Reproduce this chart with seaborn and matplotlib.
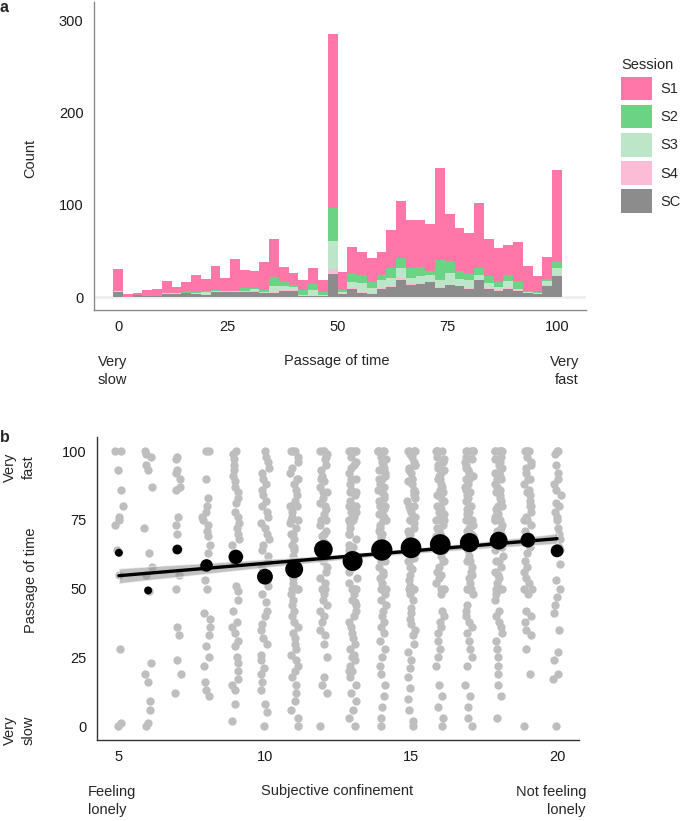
import numpy as np
import pandas as pd
import seaborn as sns
import matplotlib.pyplot as plt
from matplotlib.collections import PolyCollection

# ---- panel a: stacked histogram of "passage of time" by session ----
sessions = ["S1", "S2", "S3", "S4", "SC"]
session_colors = ["#ff76a9", "#6ad384", "#bde5c8", "#fbbdd5", "#8c8c8c"]
n_bins = 46  # bins of 100/45 units, centred on 0 ... 100

sc = [5, 0, 2, 1, 1, 3, 3, 4, 3, 2, 5, 5, 5, 5, 5, 4, 4, 6, 7, 1, 1, 1, 25, 3,
      9, 4, 3, 9, 11, 18, 13, 14, 16, 10, 13, 12, 9, 18, 9, 7, 9, 7, 4, 3, 12, 23]
s4 = [0, 0, 0, 0, 0, 0, 0, 0, 0, 0, 0, 1, 0, 1, 1, 0, 1, 2, 1, 0, 0, 0, 5, 0,
      1, 1, 1, 1, 1, 3, 2, 1, 1, 1, 0, 0, 1, 0, 1, 1, 1, 1, 0, 0, 1, 1]
s3 = [1, 0, 0, 0, 0, 1, 1, 0, 1, 3, 1, 0, 1, 1, 3, 1, 7, 4, 3, 1, 7, 1, 31, 2,
      6, 10, 6, 8, 9, 10, 6, 8, 7, 8, 13, 8, 8, 6, 5, 3, 7, 1, 1, 1, 4, 8]
s2 = [0, 0, 0, 0, 0, 0, 0, 1, 1, 1, 2, 1, 1, 3, 1, 3, 10, 4, 2, 6, 6, 3, 36, 3,
      10, 9, 6, 6, 10, 11, 11, 10, 4, 21, 13, 8, 7, 7, 8, 5, 7, 8, 1, 1, 3, 6]
s1 = [24, 3, 2, 7, 8, 13, 7, 11, 19, 14, 26, 14, 34, 19, 18, 30, 41, 17, 13, 11, 17, 14, 189, 19,
      28, 25, 26, 25, 42, 62, 52, 51, 51, 100, 51, 47, 45, 71, 40, 37, 32, 43, 28, 18, 23, 100]

# ---- panel b: individual answers per subjective-confinement score ----
conf_levels = list(range(5, 21))
conf_5 = [100, 100, 93, 86, 80, 76, 75, 73, 64, 55, 28, 1, 0]
conf_6 = [100, 99, 98, 95, 93, 87, 72, 63, 58, 55, 49, 23, 19, 16, 9, 6, 1, 0]
conf_7 = [98, 97, 93, 92, 90, 87, 86, 76, 73, 70, 64, 55, 50, 36, 33, 24, 19, 12]
conf_8 = [100, 100, 90, 83, 80, 78, 76, 75, 73, 71, 69, 66, 63, 58, 53, 50, 41, 39, 36, 33,
          29, 25, 22, 16, 13, 11]
conf_9 = [100, 99, 97, 95, 93, 91, 89, 87, 85, 83, 81, 78, 76, 74, 72, 70, 68, 66, 62, 60,
          51, 49, 46, 42, 38, 36, 34, 31, 29, 25, 23, 20, 17, 15, 13, 8, 2]
conf_10 = [100, 98, 96, 94, 92, 90, 88, 86, 84, 82, 80, 78, 76, 74, 72, 70, 68, 66, 64, 62,
           60, 58, 56, 53, 51, 48, 45, 42, 40, 37, 35, 32, 30, 26, 24, 21, 19, 16, 13, 8, 5, 0]
conf_11 = [100, 100, 100, 98, 96, 94, 92, 90, 90, 88, 86, 84, 82, 80, 80, 78, 76, 75, 75, 74,
           72, 70, 70, 68, 66, 65, 64, 62, 60, 58, 56, 54, 52, 50, 50, 50, 48, 46, 44, 42,
           40, 38, 36, 34, 32, 30, 28, 26, 24, 22, 20, 18, 15, 12, 9, 6, 3, 0]
conf_12 = [100, 100, 100, 99, 98, 97, 95, 93, 91, 90, 89, 87, 85, 85, 83, 81, 80, 79, 77, 75,
           75, 73, 71, 70, 69, 67, 65, 64, 62, 60, 58, 56, 54, 52, 50, 50, 48, 46, 44, 42,
           40, 38, 35, 33, 30, 25, 18, 15, 12, 0]
conf_13 = [100, 100, 100, 100, 100, 98, 96, 95, 94, 92, 90, 90, 90, 88, 86, 85, 85, 84, 82, 80,
           80, 80, 78, 78, 76, 75, 75, 75, 74, 72, 70, 70, 68, 66, 65, 64, 62, 60, 60, 58,
           56, 54, 52, 50, 50, 50, 50, 48, 46, 45, 44, 42, 40, 38, 36, 34, 32, 30, 28, 26,
           25, 24, 22, 20, 20, 18, 15, 12, 9, 6, 3, 0]
conf_14 = [100, 100, 100, 100, 100, 98, 97, 96, 95, 94, 93, 92, 91, 90, 90, 88, 87, 86, 85, 84,
           83, 82, 80, 80, 79, 78, 77, 76, 75, 75, 75, 73, 72, 71, 70, 70, 69, 68, 66, 65,
           64, 62, 60, 60, 58, 56, 55, 54, 52, 50, 50, 50, 48, 46, 44, 42, 40, 38, 36, 34,
           31, 28, 25, 22, 19, 15, 11, 7, 3, 0]
conf_15 = [100, 100, 100, 100, 100, 99, 98, 96, 95, 95, 94, 93, 92, 90, 90, 89, 88, 86, 85, 85,
           84, 83, 82, 80, 80, 79, 78, 76, 75, 75, 75, 74, 72, 71, 70, 70, 68, 67, 66, 65,
           63, 61, 60, 60, 58, 57, 55, 53, 51, 50, 50, 50, 48, 46, 43, 41, 39, 37, 35, 33,
           30, 27, 24, 21, 18, 14, 10, 6, 2, 0]
conf_16 = [100, 100, 100, 100, 100, 98, 97, 96, 95, 94, 93, 92, 91, 90, 90, 88, 87, 86, 85, 84,
           83, 82, 80, 80, 79, 78, 77, 76, 75, 75, 75, 73, 72, 71, 70, 70, 69, 68, 66, 65,
           64, 62, 60, 60, 58, 56, 55, 54, 52, 50, 50, 50, 48, 42, 40, 38, 36, 34, 31, 28,
           25, 22, 15, 11, 7, 3, 0]
conf_17 = [100, 100, 100, 100, 100, 100, 98, 97, 96, 95, 94, 93, 92, 91, 90, 90, 88, 87, 86, 85,
           85, 84, 83, 82, 80, 80, 79, 78, 77, 76, 75, 75, 75, 73, 72, 71, 70, 70, 69, 68,
           66, 65, 64, 62, 60, 60, 58, 56, 55, 54, 52, 50, 50, 50, 48, 44, 42, 40, 38, 36,
           34, 31, 28, 25, 22, 15, 11, 7, 3, 0]
conf_18 = [100, 100, 100, 100, 100, 100, 98, 97, 96, 95, 94, 93, 92, 91, 90, 90, 88, 87, 86, 85,
           84, 83, 82, 80, 80, 79, 78, 77, 76, 75, 75, 75, 73, 72, 71, 70, 70, 69, 68, 66,
           65, 64, 62, 60, 60, 58, 56, 55, 54, 52, 50, 50, 50, 48, 46, 42, 40, 38, 36, 34,
           31, 28, 25, 22, 19, 15, 11, 3]
conf_19 = [100, 100, 100, 100, 98, 96, 95, 94, 92, 90, 90, 88, 86, 85, 84, 82, 80, 80, 78, 76,
           75, 75, 73, 71, 69, 67, 65, 63, 60, 58, 56, 54, 52, 50, 50, 48, 42, 40, 38, 35,
           33, 28, 19, 0]
conf_20 = [100, 100, 99, 95, 92, 90, 88, 86, 84, 81, 80, 78, 76, 75, 72, 70, 68, 65, 64, 59,
           53, 50, 47, 44, 41, 35, 27, 24, 19, 17, 0]
conf_answers = [conf_5, conf_6, conf_7, conf_8, conf_9, conf_10, conf_11, conf_12,
                conf_13, conf_14, conf_15, conf_16, conf_17, conf_18, conf_19, conf_20]

# mean answer per score and the number of participants behind it (dot size)
mean_passage = [63.0, 49.3, 64.2, 58.4, 61.5, 54.3, 57.0, 64.2, 60.0, 64.0, 64.8, 66.0, 66.7, 67.4, 67.6, 63.7]
n_resp = [12, 12, 20, 36, 50, 60, 78, 85, 98, 112, 106, 106, 90, 78, 52, 38]

sns.set_style("white")
plt.rcParams["font.family"] = ["Liberation Sans", "DejaVu Sans"]
plt.rcParams["font.size"] = 10.5
np.random.seed(7)

W, H = 685, 821
fig = plt.figure(figsize=(W / 100, H / 100), dpi=100)


def px_axes(left, top, right, bottom):
    return fig.add_axes([left / W, 1 - bottom / H, (right - left) / W, (bottom - top) / H])


def px_text(x, y, s, **kw):
    fig.text(x / W, 1 - y / H, s, **kw)


ax_a = px_axes(94, 2, 586, 310)
ax_b = px_axes(97, 437, 579, 740)

# panel a
bin_centers = np.linspace(0, 100, n_bins)
half = 100 / (n_bins - 1) / 2
hist_df = pd.DataFrame({
    "passage": np.tile(bin_centers, len(sessions)),
    "session": np.repeat(sessions, n_bins),
    "count": np.concatenate([s1, s2, s3, s4, sc]),
})
sns.histplot(hist_df, x="passage", hue="session", weights="count", hue_order=sessions,
             palette=session_colors, bins=n_bins, binrange=(-half, 100 + half),
             multiple="stack", linewidth=0, alpha=1, ax=ax_a)
ax_a.axhline(0, color="#efefef", lw=2, zorder=0)
ax_a.set_xlim(-5.47, 106.6)
ax_a.set_ylim(-14.1, 320.4)
ax_a.set_xticks([0, 25, 50, 75, 100])
ax_a.set_yticks([0, 100, 200, 300])
ax_a.set_xlabel("")
ax_a.set_ylabel("")
sns.move_legend(ax_a, "upper left", bbox_to_anchor=(621 / W, 1 - 58 / H),
                bbox_transform=fig.transFigure, frameon=False, title="Session",
                handlelength=2.12, handleheight=2.12, labelspacing=0.31,
                handletextpad=0.55, borderpad=0, borderaxespad=0, alignment="left")

# panel b
strip_df = pd.DataFrame({
    "confinement": np.repeat(conf_levels, [len(a) for a in conf_answers]),
    "passage": np.concatenate(conf_answers),
})
sns.stripplot(strip_df, x="confinement", y="passage", native_scale=True, jitter=0.14,
              color="#bebebe", size=6, linewidth=0, ax=ax_b, zorder=1)
sns.regplot(strip_df, x="confinement", y="passage", scatter=False, color="black",
            ci=68, seed=1, truncate=True, line_kws={"linewidth": 2.4, "zorder": 3}, ax=ax_b)
for coll in ax_b.collections:
    if isinstance(coll, PolyCollection):
        coll.set_facecolor("#8f8f8f")
        coll.set_alpha(0.55)
        coll.set_zorder(2)
sns.scatterplot(x=conf_levels, y=mean_passage, size=n_resp, sizes=(33, 235),
                size_norm=(12, 112), color="black", linewidth=0, legend=False,
                ax=ax_b, zorder=5)
ax_b.set_xlim(4.25, 20.75)
ax_b.set_ylim(-5.09, 105.1)
ax_b.set_xticks([5, 10, 15, 20])
ax_b.set_yticks([0, 25, 50, 75, 100])
ax_b.set_xlabel("")
ax_b.set_ylabel("")

for ax, c in [(ax_a, "#8a8a8a"), (ax_b, "#333333")]:
    sns.despine(ax=ax)
    for side in ["left", "bottom"]:
        ax.spines[side].set_color(c)
        ax.spines[side].set_linewidth(1)
    ax.tick_params(length=4.5, width=1, color=c, labelcolor="#1a1a1a", pad=3, labelsize=10.5)

# labels
px_text(0, 0, "a", weight="bold", fontsize=11.5, ha="left", va="top")
px_text(0, 437, "b", weight="bold", fontsize=11.5, ha="left", va="center")
px_text(30, 158, "Count", rotation=90, ha="center", va="center")
px_text(98, 371, "Very\nslow", ha="left", va="center", linespacing=1.45)
px_text(337, 361, "Passage of time", ha="center", va="center")
px_text(579, 371, "Very\nfast", ha="right", va="center", linespacing=1.45, multialignment="right")

px_text(31, 580, "Passage of time", rotation=90, ha="center", va="center")
px_text(19, 467, "Very\nfast", rotation=90, ha="center", va="center", linespacing=1.45)
px_text(19, 730, "Very\nslow", rotation=90, ha="center", va="center", linespacing=1.45)
px_text(88, 801, "Feeling\nlonely", ha="left", va="center", linespacing=1.45)
px_text(337, 791, "Subjective confinement", ha="center", va="center")
px_text(586, 801, "Not feeling\nlonely", ha="right", va="center", linespacing=1.45, multialignment="right")

fig.savefig("out.png", dpi=100)
